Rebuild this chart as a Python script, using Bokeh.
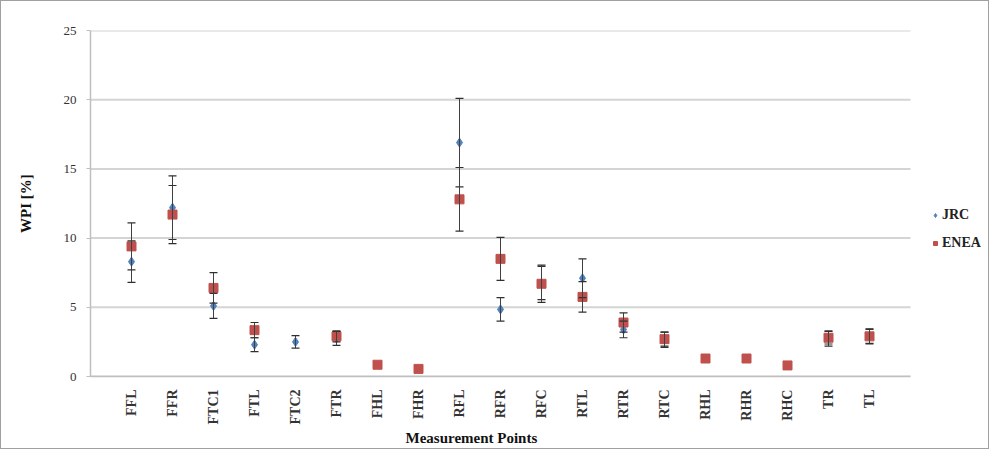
import math
from bokeh.plotting import figure
from bokeh.models import (ColumnDataSource, Range1d, FixedTicker, Whisker, TeeHead,
                          Legend, LegendItem, Title)
from bokeh.embed import file_html
from bokeh.resources import INLINE

categories = ["FFL", "FFR", "FTC1", "FTL", "FTC2", "FTR", "FHL", "FHR", "RFL", "RFR",
              "RFC", "RTL", "RTR", "RTC", "RHL", "RHR", "RHC", "TR", "TL"]
nan = float("nan")
jrc_values = [8.3, 12.2, 5.1, 2.3, 2.5, 2.75, nan, nan, 16.9, 4.85,
              6.75, 7.1, 3.4, 2.65, nan, nan, nan, 2.75, 2.9]
jrc_errors = [1.5, 2.3, 0.9, 0.5, 0.45, 0.5, nan, nan, 3.2, 0.85,
              1.2, 1.4, 0.6, 0.55, nan, nan, nan, 0.55, 0.55]
enea_values = [9.4, 11.7, 6.4, 3.35, nan, 2.9, 0.85, 0.55, 12.8, 8.5,
               6.7, 5.75, 3.9, 2.7, 1.3, 1.3, 0.8, 2.8, 2.9]
enea_errors = [1.7, 2.1, 1.1, 0.55, nan, 0.4, 0.0, 0.0, 2.3, 1.55,
               1.35, 1.1, 0.7, 0.5, 0.0, 0.0, 0.0, 0.45, 0.5]
y_ticks = [0, 5, 10, 15, 20, 25]

FONT = "Liberation Serif"
BLUE = "#4F81BD"
RED = "#C0504D"

W, H = 989, 449
LEFT, RIGHT, TOP, BOTTOM = 89, 1, 29, 74
AXIS_PX = 820  # width of the category axis in pixels


def series_sources(values, errors):
    pts = dict(x=[], y=[])
    bars = dict(x=[], lower=[], upper=[])
    for i, (v, e) in enumerate(zip(values, errors)):
        if math.isnan(v):
            continue
        pts["x"].append(i + 1)
        pts["y"].append(v)
        if e > 0:
            bars["x"].append(i + 1)
            bars["lower"].append(v - e)
            bars["upper"].append(v + e)
    return ColumnDataSource(pts), ColumnDataSource(bars)


jrc_pts, jrc_bars = series_sources(jrc_values, jrc_errors)
enea_pts, enea_bars = series_sources(enea_values, enea_errors)

n_slots = len(categories) + 1
frame_w = W - LEFT - RIGHT
x_end = n_slots * frame_w / AXIS_PX

p = figure(width=W, height=H, output_backend="svg", toolbar_location=None,
           x_range=Range1d(0, x_end), y_range=Range1d(0, max(y_ticks)),
           min_border_left=LEFT, min_border_right=RIGHT, min_border_top=TOP,
           min_border_bottom=BOTTOM)
p.styles = {"border": "1px solid #a0a0a0"}
p.outline_line_color = None
p.background_fill_color = "white"
p.border_fill_color = "white"

# grid (limited to the category axis)
p.xgrid.grid_line_color = None
p.ygrid.grid_line_color = None
grid_src = ColumnDataSource(dict(x0=[0] * len(y_ticks), x1=[n_slots] * len(y_ticks),
                                 y=y_ticks))
p.segment(x0="x0", x1="x1", y0="y", y1="y", source=grid_src,
          line_color="#d4d4d4", line_width=2)

p.yaxis.ticker = FixedTicker(ticks=y_ticks)
p.xaxis.ticker = FixedTicker(ticks=list(range(1, len(categories) + 1)))
p.xaxis.major_label_overrides = {i + 1: c for i, c in enumerate(categories)}
p.xaxis.major_label_orientation = math.pi / 2
p.xaxis.bounds = (0, n_slots)

for ax in (p.xaxis, p.yaxis):
    ax.axis_line_color = "#bfbfbf"
    ax.axis_line_width = 1.5
    ax.minor_tick_line_color = None
    ax.major_label_text_font = FONT
    ax.major_label_text_color = "#333333"
    ax.axis_label_text_font = FONT
    ax.axis_label_text_font_style = "bold"
    ax.axis_label_text_color = "#111111"
    ax.axis_label_text_font_size = "15px"

p.xaxis.major_tick_line_color = None
p.yaxis.major_tick_line_color = "#bfbfbf"
p.yaxis.major_tick_in = 0
p.yaxis.major_tick_out = 4
p.yaxis.major_label_text_font_size = "13px"
p.xaxis.major_label_text_font_size = "14px"
p.xaxis.major_label_text_font_style = "bold"
p.yaxis.major_label_standoff = 10
p.xaxis.major_label_standoff = 7
p.yaxis.axis_label = "WPI [%]"
p.yaxis.axis_label_standoff = 27

# x-axis title, centred under the category axis
p.add_layout(Title(text="Measurement Points", align="left", offset=315, standoff=0,
                   text_font=FONT, text_font_style="bold", text_font_size="15px",
                   text_color="#111111"), "below")

# error bars
for src in (jrc_bars, enea_bars):
    w = Whisker(source=src, base="x", lower="lower", upper="upper",
                line_color="#404040", line_width=1,
                upper_head=TeeHead(size=8, line_color="#303030", line_width=1.2),
                lower_head=TeeHead(size=8, line_color="#303030", line_width=1.2),
                level="glyph")
    p.add_layout(w)

r_jrc = p.scatter("x", "y", source=jrc_pts, marker="diamond", size=9,
                  fill_color=BLUE, line_color=BLUE)
r_enea = p.scatter("x", "y", source=enea_pts, marker="square", size=9,
                   fill_color=RED, line_color=RED)

legend = Legend(items=[LegendItem(label="JRC", renderers=[r_jrc]),
                       LegendItem(label="ENEA", renderers=[r_enea])],
                location=(840, 123), orientation="vertical",
                glyph_width=10, glyph_height=20, label_height=20, spacing=8,
                label_standoff=2, padding=0, margin=0,
                label_text_font=FONT, label_text_font_style="bold",
                label_text_font_size="14px", label_text_color="#222222",
                background_fill_alpha=0, border_line_color=None)
p.add_layout(legend)

open("out.html", "w").write(file_html(p, INLINE))
